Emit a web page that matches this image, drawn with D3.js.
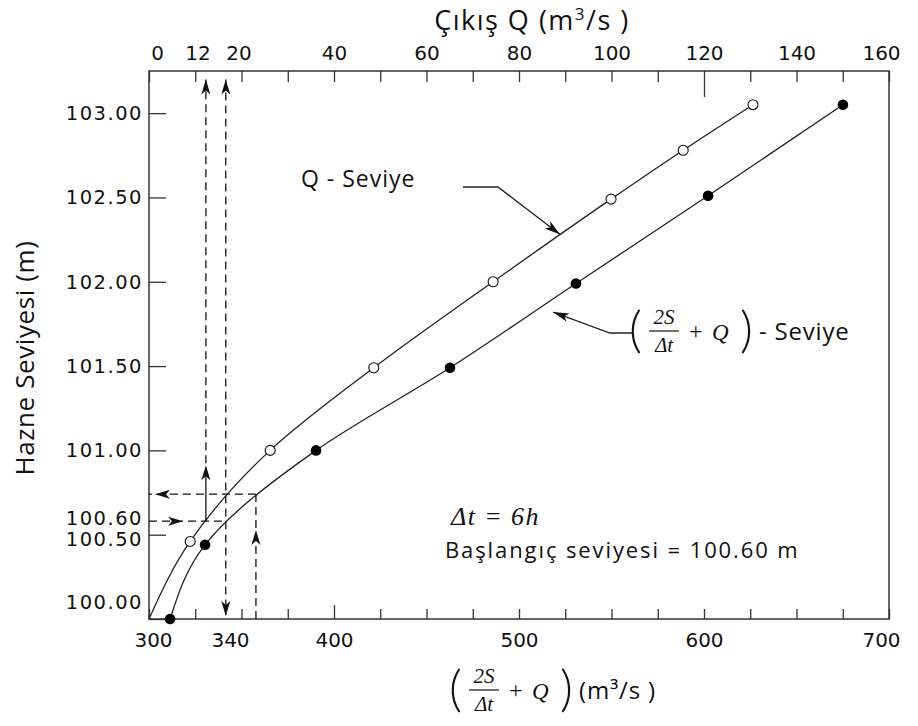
<!DOCTYPE html>
<html>
<head>
<meta charset="utf-8">
<script src="https://cdn.jsdelivr.net/npm/d3@7"></script>
<style>
  body { margin: 0; background: #fff; }
  svg text { fill: #111; }
</style>
</head>
<body>
<svg id="chart"></svg>
<script>
// Q - Seviye (üst eksen, açık daireler)
const qLevels = [100.00, 100.46, 101.00, 101.49, 102.00, 102.49, 102.78, 103.05];
const qValues = [0, 8.9, 26.2, 48.6, 74.4, 99.9, 115.5, 130.6];

// (2S/Δt + Q) - Seviye (alt eksen, dolu daireler)
const sLevels = [100.00, 100.44, 101.00, 101.49, 101.99, 102.51, 103.05];
const sValues = [311.4, 330.3, 390.3, 462.7, 530.8, 602.2, 675.1];

// eksen etiketleri
const topTickMarks = [0, 10, 20, 30, 40, 50, 60, 70, 80, 90, 100, 110, 120, 130, 140, 150, 160];
const topLabels = [0, 12, 20, 40, 60, 80, 100, 120, 140, 160];
const bottomTickMarks = [300, 325, 350, 375, 400, 425, 450, 475, 500, 525, 550, 575, 600, 625, 650, 675, 700];
const bottomLabels = [300, 340, 400, 500, 600, 700];
const yLabels = [100.00, 100.50, 100.60, 101.00, 101.50, 102.00, 102.50, 103.00];

// çözüm adımı (okunan değerler)
const startLevel = 100.58;   // başlangıç seviyesi
const nextLevel = 100.74;
const q0 = 12.3;             // üst eksende 12
const q1 = 16.6;
const s0 = 341.6;            // alt eksende 340
const s1 = 357.8;

const width = 918, height = 726;
const margin = { top: 71, right: 29, bottom: 107, left: 149 };

const svg = d3.select("#chart")
    .attr("width", width)
    .attr("height", height)
    .style("font-family", "'DejaVu Sans', sans-serif");

const xTop = d3.scaleLinear().domain([0, 160]).range([margin.left, width - margin.right]);
const xBot = d3.scaleLinear().domain([300, 700]).range([margin.left, width - margin.right]);
const y = d3.scaleLinear().domain([100, 103.25]).range([height - margin.bottom, margin.top]);

const plotBottom = height - margin.bottom;

// çerçeve
svg.append("rect")
    .attr("x", margin.left).attr("y", margin.top)
    .attr("width", width - margin.left - margin.right)
    .attr("height", plotBottom - margin.top)
    .attr("fill", "none").attr("stroke", "#333").attr("stroke-width", 1.5);

// etiketlerin küçük kaydırmaları (orijinaldeki gibi)
const topShift = { 0: 8, 12: -7, 20: -3, 160: -8 };
const botShift = { 300: 4, 340: 7, 700: -8 };

// üst eksen
const topAxis = svg.append("g")
    .attr("transform", `translate(0,${margin.top})`)
    .call(d3.axisTop(xTop).tickValues(topTickMarks).tickSize(-11).tickFormat(""));
topAxis.selectAll(".tick line").filter(d => d === 120).attr("y2", 26);
svg.append("g")
    .attr("transform", `translate(0,${margin.top})`)
    .call(d3.axisTop(xTop).tickValues(topLabels).tickSize(0).tickPadding(11))
    .selectAll("text")
    .attr("dx", d => topShift[d] || 0)
    .style("font-size", "20px").style("font-family", "'DejaVu Sans', sans-serif");

// alt eksen
const botAxis = svg.append("g")
    .attr("transform", `translate(0,${plotBottom})`)
    .call(d3.axisBottom(xBot).tickValues(bottomTickMarks).tickSize(-10).tickFormat(""));
botAxis.selectAll(".tick line").filter(d => d === 400).attr("y2", -14);
svg.append("g")
    .attr("transform", `translate(0,${plotBottom})`)
    .call(d3.axisBottom(xBot).tickValues(bottomLabels).tickSize(0).tickPadding(14))
    .selectAll("text")
    .attr("dx", d => botShift[d] || 0)
    .style("font-size", "20px").style("font-family", "'DejaVu Sans', sans-serif");

// sol eksen
svg.append("g")
    .attr("transform", `translate(${margin.left},0)`)
    .call(d3.axisLeft(y).tickValues(yLabels.filter(d => d !== 100.60)).tickSize(-17).tickFormat(""));
svg.append("g")
    .attr("transform", `translate(${margin.left},0)`)
    .call(d3.axisLeft(y).tickValues(yLabels).tickSize(0).tickPadding(6).tickFormat(d3.format(".2f")))
    .selectAll("text")
    .style("font-size", "19.5px").style("letter-spacing", "1.5px")
    .style("font-family", "'DejaVu Sans', sans-serif")
    .attr("dy", d => d === 100 ? "-0.55em" : d === 100.5 ? "0.55em" : "0.32em");

svg.selectAll(".domain").remove();
svg.selectAll(".tick line").attr("stroke", "#333").attr("stroke-width", 1.3);

// eğriler
const qData = qLevels.map((h, i) => ({ h, v: qValues[i] }));
const sData = sLevels.map((h, i) => ({ h, v: sValues[i] }));

svg.append("path")
    .datum(qData)
    .attr("fill", "none").attr("stroke", "#222").attr("stroke-width", 1.3)
    .attr("d", d3.line().x(d => xTop(d.v)).y(d => y(d.h)).curve(d3.curveMonotoneY));

svg.append("path")
    .datum(sData)
    .attr("fill", "none").attr("stroke", "#222").attr("stroke-width", 1.3)
    .attr("d", d3.line().x(d => xBot(d.v)).y(d => y(d.h)).curve(d3.curveMonotoneY));

// yardımcı kesikli çizgiler
const dash = "8,5";
function dline(x1, y1, x2, y2, dashed = true) {
    svg.append("line")
        .attr("x1", x1).attr("y1", y1).attr("x2", x2).attr("y2", y2)
        .attr("stroke", "#111").attr("stroke-width", 1.3)
        .attr("stroke-dasharray", dashed ? dash : null);
}
function arrow(x, yy, angle, len = 15) {
    svg.append("path")
        .attr("d", `M0,0 L${-len},-4.5 L${-len + 4},0 L${-len},4.5 Z`)
        .attr("transform", `translate(${x},${yy}) rotate(${angle})`)
        .attr("fill", "#111");
}

const topEnd = y(103.2);
// başlangıç seviyesinden sağa
dline(margin.left, y(startLevel), xBot(s0), y(startLevel));
arrow(183, y(startLevel), 0);
// Q0 yukarı
dline(xTop(q0), y(startLevel), xTop(q0), y(startLevel) - 45, false);
dline(xTop(q0), y(startLevel) - 45, xTop(q0), topEnd);
arrow(xTop(q0), y(startLevel) - 56, -90);
arrow(xTop(q0), topEnd, -90);
// s0 / q1 dikey
dline(xTop(q1), topEnd, xTop(q1), plotBottom - 4);
arrow(xTop(q1), topEnd, -90);
arrow(xTop(q1), plotBottom - 3, 90);
// s1 yukarı
dline(xBot(s1), plotBottom, xBot(s1), y(nextLevel));
arrow(xBot(s1), 530, -90);
// yeni seviye sola
dline(xBot(s1), y(nextLevel), margin.left, y(nextLevel));
arrow(155, y(nextLevel), 180);

// noktalar
svg.selectAll(".open")
    .data(qData.slice(1))
    .enter().append("circle")
    .attr("cx", d => xTop(d.v)).attr("cy", d => y(d.h)).attr("r", 5)
    .attr("fill", "#fff").attr("stroke", "#111").attr("stroke-width", 1.1);

svg.selectAll(".filled")
    .data(sData)
    .enter().append("circle")
    .attr("cx", d => xBot(d.v)).attr("cy", d => y(d.h)).attr("r", 5.3)
    .attr("fill", "#000");

// etiket oklari
const tip1 = [xTop(88.9), y(102.28)];
svg.append("polyline")
    .attr("points", `463,187 498,187 ${tip1[0]},${tip1[1]}`)
    .attr("fill", "none").attr("stroke", "#222").attr("stroke-width", 1.3);
arrow(tip1[0], tip1[1], Math.atan2(tip1[1] - 187, tip1[0] - 498) * 180 / Math.PI, 16);

const tip2 = [xBot(518.4), y(101.82)];
svg.append("polyline")
    .attr("points", `632,333 610,333 ${tip2[0]},${tip2[1]}`)
    .attr("fill", "none").attr("stroke", "#222").attr("stroke-width", 1.3);
arrow(tip2[0], tip2[1], Math.atan2(tip2[1] - 333, tip2[0] - 610) * 180 / Math.PI, 16);

const sans = "'Open Sans', sans-serif";
const serif = "'Liberation Serif', serif";

svg.append("text").attr("x", 301).attr("y", 187)
    .style("font-family", sans).style("font-size", "23px").style("letter-spacing", "1px")
    .text("Q - Seviye");

// (2S/Δt + Q) yazısı
function fracLabel(x0, yc, tail) {
    const g = svg.append("g").attr("transform", `translate(${x0},${yc})`);
    g.append("text").attr("x", 0).attr("y", 16).style("font-family", "Lato, sans-serif").style("font-weight", 300)
        .style("font-size", "50px").text("(");
    g.append("text").attr("x", 35).attr("y", -7).attr("text-anchor", "middle")
        .style("font-family", serif).style("font-style", "italic").style("font-size", "21px").text("2S");
    g.append("line").attr("x1", 20).attr("x2", 50).attr("y1", 0).attr("y2", 0)
        .attr("stroke", "#111").attr("stroke-width", 1.2);
    g.append("text").attr("x", 35).attr("y", 21).attr("text-anchor", "middle")
        .style("font-family", serif).style("font-style", "italic").style("font-size", "21px").text("Δt");
    g.append("text").attr("x", 60).attr("y", 8)
        .style("font-family", serif).style("font-size", "24px").text("+");
    g.append("text").attr("x", 83).attr("y", 9)
        .style("font-family", serif).style("font-style", "italic").style("font-size", "23px").text("Q");
    g.append("text").attr("x", 111).attr("y", 16).style("font-family", "Lato, sans-serif").style("font-weight", 300)
        .style("font-size", "50px").text(")");
    g.append("text").attr("x", 130).attr("y", 9)
        .style("font-family", sans).style("font-size", "24px").style("letter-spacing", "0.8px").text(tail);
}
fracLabel(629, 331, "- Seviye");
fracLabel(449, 690, "(m³/s )");

svg.append("text").attr("x", 451).attr("y", 525)
    .style("font-family", serif).style("font-style", "italic").style("font-size", "26px")
    .style("letter-spacing", "1.4px").text("Δt = 6h");
svg.append("text").attr("x", 445).attr("y", 558)
    .style("font-family", sans).style("font-size", "22px").style("letter-spacing", "1.9px")
    .text("Başlangıç seviyesi = 100.60 m");

// eksen başlıkları
svg.append("text").attr("x", 532).attr("y", 30).attr("text-anchor", "middle")
    .style("font-family", sans).style("font-size", "27px").style("letter-spacing", "1.5px")
    .html("Çıkış Q (m<tspan dy='-10' font-size='17px'>3</tspan><tspan dy='10'>/s )</tspan>");

svg.append("text")
    .attr("transform", `translate(34,358) rotate(-90)`)
    .attr("text-anchor", "middle")
    .style("font-family", sans).style("font-size", "26px").style("letter-spacing", "0.6px")
    .text("Hazne Seviyesi (m)");
</script>
</body>
</html>
